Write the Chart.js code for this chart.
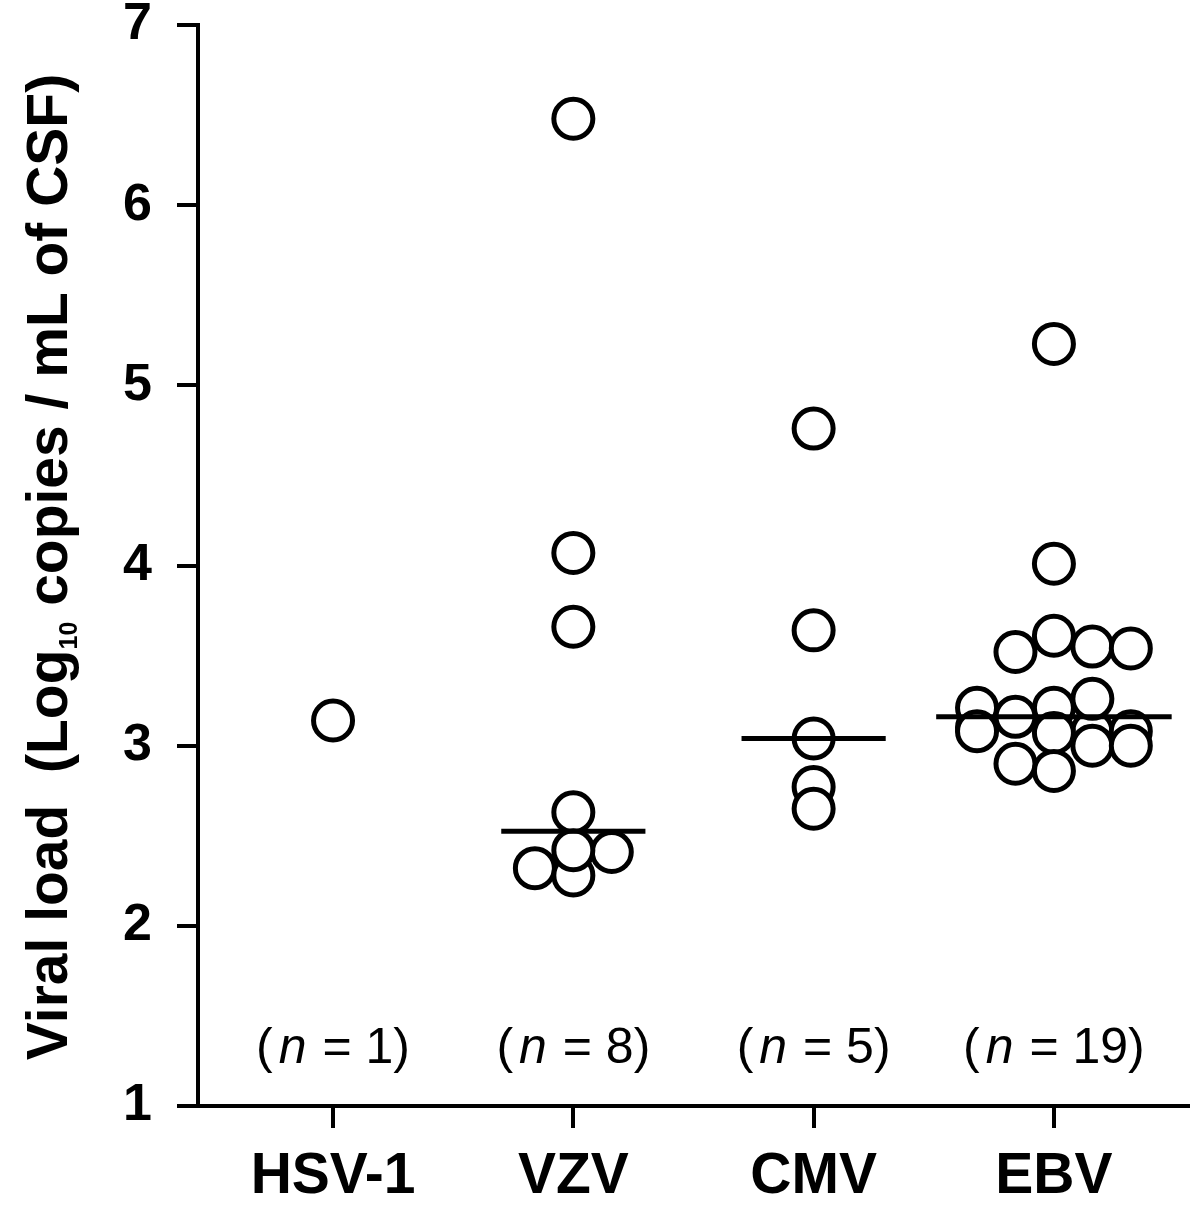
<!DOCTYPE html>
<html>
<head>
<meta charset="utf-8">
<script src="https://cdn.jsdelivr.net/npm/chart.js@4.4.0/dist/chart.umd.min.js"></script>
<style>
  body { margin: 0; background: #fff; }
  #wrap { width: 1200px; height: 1215px; }
</style>
</head>
<body>
<div id="wrap"><canvas id="viralChart" width="1200" height="1215"></canvas></div>
<script>
// categories and sample sizes
const categories = ['HSV-1', 'VZV', 'CMV', 'EBV'];
const sampleSizes = [1, 8, 5, 19];
const yTicks = [1, 2, 3, 4, 5, 6, 7];

// viral load values (log10 copies / mL), with the column spread
const hsvValues = [3.14];
const hsvSpread = [0];

const vzvValues = [6.48, 4.07, 3.66, 2.63, 2.41, 2.32, 2.28, 2.42];
const vzvSpread = [0, 0, 0, 0, 0.16, -0.16, 0, 0];

const cmvValues = [4.76, 3.64, 3.04, 2.77, 2.65];
const cmvSpread = [0, 0, 0, 0, 0];

const ebvValues = [3.10, 3.08, 3.08, 5.23, 4.01, 3.61, 3.52, 3.55, 3.54, 3.26,
                   3.21, 3.21, 3.16, 3.08, 3.07, 3.00, 3.00, 2.90, 2.86];
const ebvSpread = [-0.32, 0.16, 0.32, 0, 0, 0, -0.16, 0.16, 0.32, 0.16,
                   -0.32, 0, -0.16, -0.32, 0, 0.16, 0.32, -0.16, 0];

const FONT = "'Liberation Sans', Arial, Helvetica, sans-serif";

function median(arr) {
  const s = [...arr].sort((a, b) => a - b);
  const m = Math.floor(s.length / 2);
  return s.length % 2 ? s[m] : (s[m - 1] + s[m]) / 2;
}

function toPoints(values, spread, idx) {
  return values.map((v, i) => ({ x: idx + spread[i], y: v }));
}

const columns = [
  { values: hsvValues, spread: hsvSpread },
  { values: vzvValues, spread: vzvSpread },
  { values: cmvValues, spread: cmvSpread },
  { values: ebvValues, spread: ebvSpread },
];

// half length of the median bar, in category units
const barHalf = [0, 0.30, 0.30, 0.49];

const datasets = [];
columns.forEach((col, idx) => {
  datasets.push({
    type: 'scatter',
    label: categories[idx],
    data: toPoints(col.values, col.spread, idx),
    pointRadius: 19.5,
    pointHoverRadius: 19.5,
    borderWidth: 5,
    pointBorderWidth: 5,
    borderColor: '#000',
    backgroundColor: '#fff',
    order: 2,
  });
  if (col.values.length > 1) {
    const m = median(col.values);
    datasets.push({
      type: 'line',
      label: categories[idx] + ' median',
      data: [{ x: idx - barHalf[idx], y: m }, { x: idx + barHalf[idx], y: m }],
      borderColor: '#000',
      borderWidth: 5,
      pointRadius: 0,
      fill: false,
      order: 1,
    });
  }
});

// y title with subscript, and the (n = ...) notes
const annotations = {
  id: 'annotations',
  afterDraw(chart) {
    const ctx = chart.ctx;
    ctx.save();
    ctx.fillStyle = '#000';
    ctx.textBaseline = 'alphabetic';
    ctx.textAlign = 'left';

    // axis title
    const mainFont = 'bold 57px ' + FONT;
    const subFont = 'bold 25px ' + FONT;
    const part1 = 'Viral load  (Log';
    const sub = '10';
    const part2 = ' copies / mL of CSF)';
    ctx.font = mainFont;
    const w1 = ctx.measureText(part1).width;
    const w2 = ctx.measureText(part2).width;
    ctx.font = subFont;
    const ws = ctx.measureText(sub).width;
    const total = w1 + ws + w2;
    ctx.translate(67, 567);
    ctx.rotate(-Math.PI / 2);
    let x = -total / 2;
    ctx.font = mainFont;
    ctx.fillText(part1, x, 0);
    x += w1;
    ctx.font = subFont;
    ctx.fillText(sub, x, 10);
    x += ws;
    ctx.font = mainFont;
    ctx.fillText(part2, x, 0);
    ctx.setTransform(1, 0, 0, 1, 0, 0);

    // sample sizes
    const yBase = chart.scales.y.getPixelForValue(1.24);
    const reg = '50px ' + FONT;
    const ital = 'italic 50px ' + FONT;
    sampleSizes.forEach((n, i) => {
      const cx = chart.scales.x.getPixelForValue(i);
      const a = '(';
      const b = 'n';
      const c = ' = ' + n + ')';
      ctx.font = reg;
      const wa = ctx.measureText(a).width + 6;
      const wc = ctx.measureText(c).width;
      ctx.font = ital;
      const wb = ctx.measureText(b).width + 2;
      let px = cx - (wa + wb + wc) / 2;
      ctx.font = reg;
      ctx.fillText(a, px, yBase);
      px += wa;
      ctx.font = ital;
      ctx.fillText(b, px, yBase);
      px += wb;
      ctx.font = reg;
      ctx.fillText(c, px, yBase);
    });
    ctx.restore();
  },
};

document.addEventListener('DOMContentLoaded', () => {
  const ctx = document.getElementById('viralChart').getContext('2d');
  new Chart(ctx, {
    type: 'scatter',
    data: { datasets },
    options: {
      responsive: false,
      animation: false,
      devicePixelRatio: 1,
      layout: { autoPadding: false, padding: { top: 25, right: 12, left: 0, bottom: 0 } },
      plugins: {
        legend: { display: false },
        tooltip: { enabled: false },
      },
      scales: {
        x: {
          type: 'linear',
          min: -0.562,
          max: 3.558,
          afterBuildTicks: (s) => { s.ticks = categories.map((c, i) => ({ value: i })); },
          afterFit: (s) => {
            s.height = 109;
            s.paddingLeft = 0;
            s.paddingRight = 0;
          },
          ticks: {
            callback: (v) => categories[v],
            autoSkip: false,
            maxRotation: 0,
            padding: 15,
            color: '#000',
            font: { family: FONT, size: 57, weight: 'bold' },
          },
          grid: { drawOnChartArea: false, drawTicks: true, tickLength: 22, lineWidth: 4, color: '#000' },
          border: { display: true, width: 4, color: '#000' },
        },
        y: {
          type: 'linear',
          min: 1,
          max: 7,
          afterBuildTicks: (s) => { s.ticks = yTicks.map((v) => ({ value: v })); },
          afterFit: (s) => {
            s.width = 198;
            s.paddingTop = 0;
            s.paddingBottom = 0;
          },
          ticks: {
            padding: 25,
            color: '#000',
            font: { family: FONT, size: 52, weight: 'bold' },
          },
          grid: { drawOnChartArea: false, drawTicks: true, tickLength: 21, lineWidth: 4, color: '#000' },
          border: { display: true, width: 4, color: '#000' },
        },
      },
    },
    plugins: [annotations],
  });
});
</script>
</body>
</html>
